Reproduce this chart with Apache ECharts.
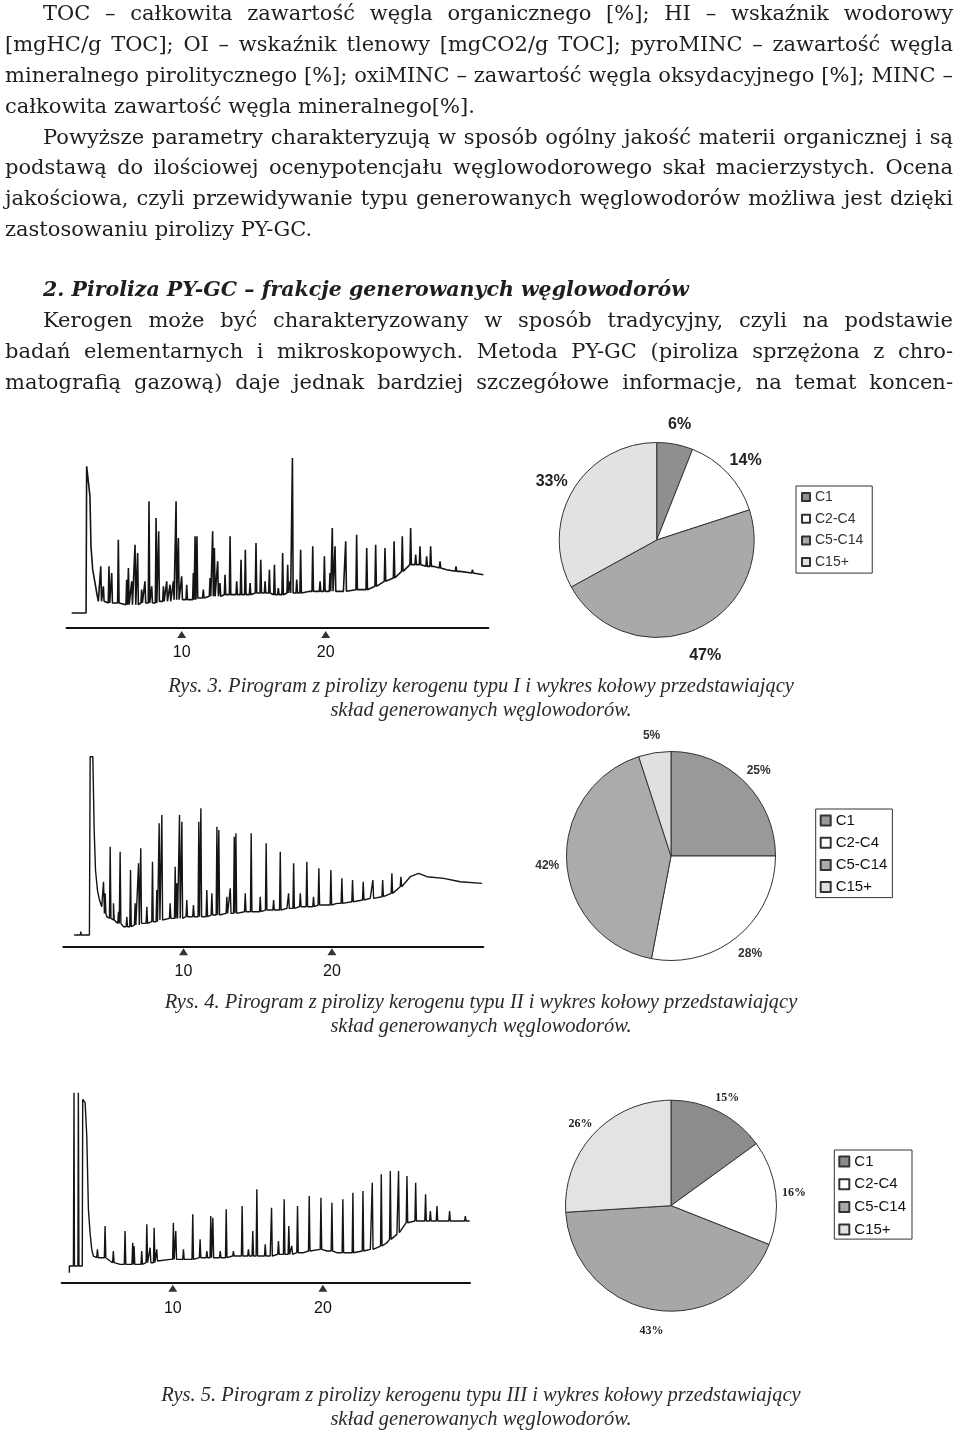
<!DOCTYPE html>
<html>
<head>
<meta charset="utf-8">
<script src="https://cdn.jsdelivr.net/npm/echarts@6.0.0/dist/echarts.min.js"></script>
<style>
  html, body { margin:0; padding:0; background:#fff; }
  body { width:960px; height:1435px; position:relative; overflow:hidden; }
  .chart { position:absolute; left:0; top:0; width:960px; height:1435px; }
  .txt { position:absolute; left:5px; width:948px; font-family:'DejaVu Serif', serif; font-size:21px; color:#1e1e1e; z-index:10; }
  .ln { white-space:nowrap; }
  .ln span { white-space:nowrap; }
  .ind { padding-left:38px; }
  .cap { position:absolute; left:0; width:962px; text-align:center; font-family:'Liberation Serif', serif; font-style:italic; font-size:20.5px; line-height:24px; color:#2a2a2a; z-index:10; }
</style>
</head>
<body>
<div id="f1" class="chart"></div>
<div id="f2" class="chart"></div>
<div id="f3" class="chart"></div>

<div class="txt" style="top:-1.7px; line-height:30.8px;">
  <div class="ln j ind"><span>TOC – całkowita zawartość węgla organicznego [%]; HI – wskaźnik wodorowy</span></div>
  <div class="ln j"><span>[mgHC/g TOC]; OI – wskaźnik tlenowy [mgCO2/g TOC]; pyroMINC – zawartość węgla</span></div>
  <div class="ln j"><span>mineralnego pirolitycznego [%]; oxiMINC – zawartość węgla oksydacyjnego [%]; MINC –</span></div>
  <div class="ln"><span>całkowita zawartość węgla mineralnego[%].</span></div>
  <div class="ln j ind"><span>Powyższe parametry charakteryzują w sposób ogólny jakość materii organicznej i są</span></div>
  <div class="ln j"><span>podstawą do ilościowej ocenypotencjału węglowodorowego skał macierzystych. Ocena</span></div>
  <div class="ln j"><span>jakościowa, czyli przewidywanie typu generowanych węglowodorów możliwa jest dzięki</span></div>
  <div class="ln"><span>zastosowaniu pirolizy PY-GC.</span></div>
</div>
<div class="txt" style="top:273.7px; line-height:31px;">
  <div class="ln ind"><span style="font-weight:bold; font-style:italic; font-size:20.5px;">2. Piroliza PY-GC – frakcje generowanych węglowodorów</span></div>
  <div class="ln j ind"><span>Kerogen może być charakteryzowany w sposób tradycyjny, czyli na podstawie</span></div>
  <div class="ln j"><span>badań elementarnych i mikroskopowych. Metoda PY-GC (piroliza sprzężona z chro-</span></div>
  <div class="ln j"><span>matografią gazową) daje jednak bardziej szczegółowe informacje, na temat koncen-</span></div>
</div>

<div class="cap" style="top:673px;">Rys. 3. Pirogram z pirolizy kerogenu typu I i wykres kołowy przedstawiający<br>skład generowanych węglowodorów.</div>
<div class="cap" style="top:989px;">Rys. 4. Pirogram z pirolizy kerogenu typu II i wykres kołowy przedstawiający<br>skład generowanych węglowodorów.</div>
<div class="cap" style="top:1382px;">Rys. 5. Pirogram z pirolizy kerogenu typu III i wykres kołowy przedstawiający<br>skład generowanych węglowodorów.</div>

<script>
// ---------- DATA ----------
const legendNames = ['C1', 'C2-C4', 'C5-C14', 'C15+'];
const tickValues = [10, 20];

const pie1Values = [6, 14, 47, 33];
const pie2Values = [25, 28, 42, 5];
const pie3Values = [15, 16, 43, 26];

// chromatogram traces: baseline [time, intensity], peaks [time, base, top]
const trace1Baseline = [
  [2.36, 9], [3.36, 9], [3.40, 97], [3.52, 97], [3.63, 79], [3.70, 49], [3.82, 35], [3.94, 29],
  [4.10, 21], [4.21, 16], [5.02, 15], [6.18, 14], [7.34, 15], [8.5, 16], [9.65, 17], [10.81, 17],
  [11.97, 19], [13.13, 20], [14.28, 20], [15.44, 21], [16.6, 20], [17.75, 21], [18.91, 22],
  [20.07, 22], [21.23, 22], [22.38, 23], [23.54, 26], [24.7, 30], [25.39, 35], [25.86, 38],
  [26.55, 38], [27.48, 37], [28.4, 35], [29.33, 34], [30.95, 32]
];
const trace1Peaks = [
  [4.38, 16, 37], [4.95, 15, 37], [5.14, 15, 33], [5.60, 15, 53], [6.30, 14, 36], [6.76, 14, 50],
  [6.94, 14, 45], [7.73, 15, 76], [8.22, 15, 66], [8.40, 16, 58], [9.61, 17, 76], [9.77, 17, 54],
  [10.93, 17, 55], [11.06, 18, 55], [12.15, 19, 58], [12.27, 19, 48], [12.50, 19, 40], [13.36, 20, 55],
  [14.12, 20, 41], [14.42, 20, 47], [15.16, 21, 51], [15.49, 21, 41], [16.09, 21, 35], [16.44, 20, 38],
  [17.01, 20, 45], [17.36, 21, 38], [17.69, 21, 102], [18.26, 21, 47], [19.10, 22, 49], [19.91, 22, 43],
  [20.46, 22, 60], [20.65, 22, 49], [21.39, 22, 52], [22.15, 23, 56], [22.85, 23, 48], [23.47, 25, 50],
  [24.12, 28, 48], [24.75, 30, 52], [25.32, 34, 55], [25.90, 38, 60], [26.25, 38, 44], [26.55, 38, 49],
  [27.01, 37, 43], [27.29, 37, 49], [27.94, 36, 40], [29.05, 34, 37], [30.19, 33, 35],
  [4.56, 16, 25], [6.18, 14, 29], [6.53, 14, 28], [7.22, 15, 23], [7.45, 15, 28], [7.92, 15, 25],
  [8.73, 16, 25], [8.96, 16, 28], [9.19, 16, 26], [9.42, 17, 28], [10.0, 17, 31], [10.35, 17, 26],
  [10.81, 17, 33], [11.50, 18, 23], [11.97, 19, 30], [12.66, 19, 27], [13.01, 20, 32], [13.82, 20, 28],
  [14.75, 20, 27], [15.79, 21, 28], [16.71, 20, 24], [17.52, 21, 28], [17.99, 21, 29], [19.61, 22, 28],
  [20.30, 22, 33]
];

const trace2Baseline = [
  [2.63, 7], [3.05, 7], [3.08, 9], [3.11, 7], [3.66, 7], [3.71, 114], [3.89, 114], [3.98, 70],
  [4.07, 46], [4.20, 34], [4.34, 28], [4.49, 24], [4.83, 18], [5.28, 16], [5.96, 12], [6.85, 13],
  [7.98, 15], [9.10, 17], [10.22, 18], [11.35, 18], [12.47, 20], [13.60, 20], [14.72, 21], [15.84, 22],
  [16.97, 23], [18.09, 24], [19.21, 25], [20.34, 26], [21.46, 27], [22.58, 29], [23.71, 31], [24.61, 36],
  [25.28, 42], [25.84, 44], [26.40, 42], [27.53, 41], [28.65, 39], [30.11, 38]
];
const trace2Peaks = [
  [4.61, 24, 39], [5.06, 17, 60], [5.73, 14, 57], [6.43, 12, 46], [6.97, 13, 50], [7.12, 14, 59],
  [7.91, 15, 51], [8.36, 16, 74], [8.54, 16, 79], [9.44, 17, 48], [9.73, 17, 79], [9.89, 17, 75],
  [11.03, 18, 75], [11.17, 18, 83], [12.25, 19, 72], [12.38, 19, 70], [13.42, 20, 66], [13.53, 20, 68],
  [14.56, 21, 68], [15.57, 22, 62], [16.52, 22, 57], [17.42, 23, 50], [18.31, 24, 51], [19.12, 25, 47],
  [19.93, 25, 46], [20.67, 26, 41], [21.39, 27, 40], [22.11, 28, 39], [22.76, 29, 40], [23.42, 30, 40],
  [24.04, 32, 44], [24.65, 36, 42],
  [4.72, 20, 32], [5.28, 16, 26], [5.62, 14, 21], [6.18, 12, 18], [6.74, 13, 26], [7.53, 14, 24],
  [8.20, 15, 34], [9.10, 17, 26], [9.55, 17, 38], [10.22, 18, 28], [10.67, 18, 25], [11.57, 18, 34],
  [11.91, 19, 32], [12.92, 20, 30], [13.15, 20, 35], [14.16, 21, 32], [15.17, 21, 30], [16.07, 22, 28],
  [17.08, 23, 32], [17.87, 24, 32], [18.76, 24, 30]
];

const trace3Baseline = [
  [3.11, 6], [3.11, 10], [3.38, 10], [3.42, 114], [3.45, 10], [3.68, 10], [3.71, 114], [3.75, 10],
  [3.97, 10], [4.00, 110], [4.16, 108], [4.27, 88], [4.38, 44], [4.49, 30], [4.60, 20], [4.71, 16],
  [5.16, 15], [5.82, 13], [6.49, 11], [7.60, 11], [8.71, 12], [9.82, 14], [10.93, 14], [12.04, 15],
  [13.16, 15], [14.27, 16], [15.38, 16], [16.49, 16], [17.60, 17], [18.71, 18], [19.82, 20], [20.27, 19],
  [20.93, 18], [22.04, 18], [23.16, 20], [24.27, 24], [24.93, 29], [25.60, 36], [26.49, 37], [28.04, 37],
  [29.78, 37]
];
const trace3Peaks = [
  [5.49, 15, 34], [6.82, 11, 31], [7.33, 11, 24], [8.27, 12, 35], [8.76, 12, 33], [10.04, 14, 36],
  [11.33, 14, 41], [11.82, 15, 26], [12.53, 15, 40], [12.67, 15, 39], [13.56, 15, 44], [14.62, 16, 46],
  [15.33, 16, 31], [15.60, 16, 56], [16.58, 16, 45], [17.42, 17, 50], [17.73, 17, 34], [18.31, 18, 46],
  [19.09, 19, 52], [19.87, 20, 51], [20.60, 19, 48], [21.33, 18, 50], [22.00, 18, 54], [22.67, 19, 55],
  [23.29, 20, 60], [23.89, 22, 65], [24.49, 26, 67], [25.04, 30, 67], [25.60, 36, 64], [26.18, 37, 60],
  [26.84, 37, 53], [27.16, 37, 43], [27.60, 37, 46], [28.44, 37, 43], [29.49, 37, 40],
  [4.98, 15, 20], [6.04, 12, 19], [7.42, 11, 22], [7.93, 11, 19], [8.49, 12, 21], [8.93, 13, 20],
  [10.2, 14, 31], [10.71, 14, 20], [12.27, 15, 19], [13.16, 15, 19], [14.04, 16, 19], [15.04, 16, 20],
  [16.16, 16, 23], [17.04, 17, 25], [17.93, 17, 22]
];

// ---------- BUILD ----------
function buildTrace(baseline, peaks, w) {
  const pts = baseline.map(p => [p[0], p[1]]);
  peaks.forEach(p => { pts.push([p[0] - w, p[1]], [p[0], p[2]], [p[0] + w, p[1]]); });
  pts.sort((a, b) => a[0] - b[0]);
  return pts;
}

function makeFigure(id, trace, values, L) {
  const chart = echarts.init(document.getElementById(id), null, { renderer: 'canvas' });
  const pieData = legendNames.map((n, i) => ({ name: n, value: values[i], itemStyle: { color: L.colors[i] } }));
  const ringData = legendNames.map((n, i) => ({ name: n, value: values[i] }));
  chart.setOption({
    animation: false,
    backgroundColor: 'transparent',
    grid: { left: L.grid[0], top: L.grid[1], width: L.grid[2], height: L.grid[3], containLabel: false },
    xAxis: {
      type: 'value', min: L.x[0], max: L.x[1],
      axisLine: { onZero: true, lineStyle: { color: '#111', width: 2 } },
      axisTick: { show: false }, splitLine: { show: false },
      axisLabel: { customValues: tickValues, margin: L.labelMargin, fontFamily: 'Liberation Sans', fontSize: 16, color: '#111' }
    },
    yAxis: { type: 'value', min: L.y[0], max: L.y[1], show: false },
    legend: {
      orient: 'vertical', left: L.legend.left, top: L.legend.top, data: legendNames,
      icon: 'rect', itemWidth: L.legend.icon, itemHeight: L.legend.icon, itemGap: L.legend.gap,
      borderColor: '#333', borderWidth: 1, padding: L.legend.padding, selectedMode: false,
      textStyle: { fontFamily: 'Liberation Sans', fontSize: L.legend.font, lineHeight: L.legend.font, color: L.legend.color, fontWeight: L.legend.weight }
    },
    series: [
      { type: 'line', data: trace, showSymbol: false, silent: true,
        lineStyle: { color: '#141414', width: L.lineWidth } },
      { type: 'scatter', data: tickValues.map(v => [v, L.triY]), symbol: 'triangle', symbolSize: [9, 7],
        itemStyle: { color: '#000' }, silent: true },
      { type: 'pie', center: L.center, radius: L.r, startAngle: 90, clockwise: true, data: pieData,
        label: { show: false }, labelLine: { show: false }, silent: true,
        itemStyle: { borderColor: '#333', borderWidth: 1 } },
      { type: 'pie', center: L.center, radius: L.ring, startAngle: 90, clockwise: true, data: ringData,
        silent: true, itemStyle: { color: 'rgba(0,0,0,0)', borderWidth: 0 }, labelLine: { show: false },
        label: { show: true, position: 'inside', formatter: '{c}%', fontFamily: L.pieFont.family,
          fontSize: L.pieFont.size, fontWeight: 'bold', color: L.pieFont.color, offset: [0, L.labelDy] } }
    ]
  });
}

makeFigure('f1', buildTrace(trace1Baseline, trace1Peaks, 0.05), pie1Values, {
  grid: [66.5, 433, 421.9, 215], x: [2, 31.3], y: [-12, 117], triY: -3.9, labelMargin: -3, lineWidth: 1.6,
  center: [656.7, 540], r: 97.5, ring: [107, 131], labelDy: 4,
  colors: ['#8f8f8f', '#ffffff', '#a9a9a9', '#e2e2e2'],
  pieFont: { family: 'Liberation Sans', size: 16, color: '#222' },
  legend: { left: 796, top: 486, icon: 8, gap: 7.7, padding: [4, 9, 4, 5], font: 14, color: '#333', weight: 'normal' }
});
makeFigure('f2', buildTrace(trace2Baseline, trace2Peaks, 0.05), pie2Values, {
  grid: [63.3, 751.7, 420, 215], x: [1.9, 30.2], y: [-12, 117], triY: -3, labelMargin: -3, lineWidth: 1.4,
  center: [671, 856], r: 104.5, ring: [109, 133], labelDy: 2,
  colors: ['#999999', '#ffffff', '#ababab', '#e0e0e0'],
  pieFont: { family: 'Liberation Sans', size: 12, color: '#333' },
  legend: { left: 815.7, top: 809, icon: 10, gap: 7.2, padding: [4, 5, 3, 4], font: 15, color: '#111', weight: 'normal' }
});
makeFigure('f3', buildTrace(trace3Baseline, trace3Peaks, 0.05), pie3Values, {
  grid: [61.7, 1087.7, 408.3, 215], x: [2.6, 29.8], y: [-12, 117], triY: -3.4, labelMargin: -2.5, lineWidth: 1.4,
  center: [671, 1205.7], r: 105.5, ring: [110, 132], labelDy: 3,
  colors: ['#8c8c8c', '#ffffff', '#a7a7a7', '#e3e3e3'],
  pieFont: { family: 'Liberation Serif', size: 12, color: '#222' },
  legend: { left: 834.3, top: 1150, icon: 10, gap: 7.7, padding: [4, 6, 2, 4], font: 15, color: '#111', weight: 'normal' }
});

// justify full text lines exactly to the column width
document.querySelectorAll('.ln.j').forEach(el => {
  const span = el.firstElementChild;
  const target = el.clientWidth - parseFloat(getComputedStyle(el).paddingLeft);
  const natural = span.getBoundingClientRect().width;
  const spaces = (span.textContent.match(/ /g) || []).length;
  if (spaces > 0) span.style.wordSpacing = ((target - natural) / spaces) + 'px';
});
</script>
</body>
</html>
